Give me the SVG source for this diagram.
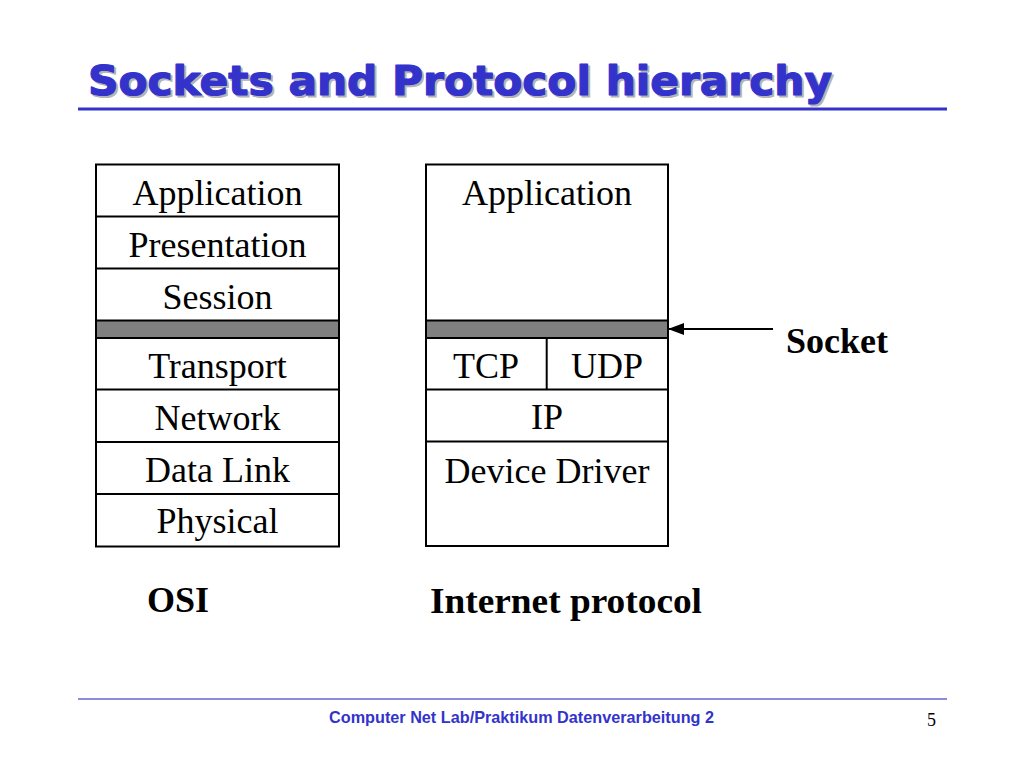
<svg xmlns="http://www.w3.org/2000/svg" width="1024" height="768" viewBox="0 0 1024 768">
<defs>
<style>
.box{fill:#ffffff;stroke:#000000;stroke-width:2}
.div{stroke:#000000;stroke-width:2}
.band{fill:#808080;stroke:#000000;stroke-width:2}
.lay{font-family:"Liberation Serif","Times New Roman",serif;font-size:36px;fill:#000000;text-anchor:middle}
.lbl{font-family:"Liberation Serif","Times New Roman",serif;font-size:36px;font-weight:bold;fill:#000000}
.title{font-family:"DejaVu Sans",Verdana,sans-serif;font-size:41px;font-weight:bold;stroke-width:1.2;stroke-linejoin:round}
</style>
<marker id="arr" viewBox="0 0 16 12" refX="15" refY="6" markerWidth="16" markerHeight="12" markerUnits="userSpaceOnUse" orient="auto">
<path d="M0,0 L16,6 L0,12 Z" fill="#000000"/>
</marker>
</defs>
<rect width="1024" height="768" fill="#ffffff"/>

<g id="title">
<text class="title" x="90" y="97" fill="#b4b4b4" stroke="#b4b4b4" textLength="744" lengthAdjust="spacingAndGlyphs">Sockets and Protocol hierarchy</text>
<text class="title" x="88" y="95" fill="#3333cc" stroke="#3333cc" textLength="744" lengthAdjust="spacingAndGlyphs">Sockets and Protocol hierarchy</text>
<line x1="78" y1="109" x2="947" y2="109" stroke="#3333cc" stroke-width="3"/>
</g>

<g id="osi">
<rect class="box" x="96" y="164.5" width="243" height="382"/>
<rect class="band" x="96" y="320.5" width="243" height="17.5"/>
<line class="div" x1="96" y1="338" x2="339" y2="338" stroke-width="3"/>
<line class="div" x1="96" y1="216.5" x2="339" y2="216.5"/>
<line class="div" x1="96" y1="268.5" x2="339" y2="268.5"/>
<line class="div" x1="96" y1="389.5" x2="339" y2="389.5"/>
<line class="div" x1="96" y1="442" x2="339" y2="442"/>
<line class="div" x1="96" y1="494" x2="339" y2="494"/>
<text class="lay" x="217.5" y="205">Application</text>
<text class="lay" x="217.5" y="257">Presentation</text>
<text class="lay" x="217.5" y="309">Session</text>
<text class="lay" x="217.5" y="378">Transport</text>
<text class="lay" x="217.5" y="430">Network</text>
<text class="lay" x="217.5" y="482">Data Link</text>
<text class="lay" x="217.5" y="533">Physical</text>
<text class="lbl" x="147" y="612">OSI</text>
</g>

<g id="internet">
<rect class="box" x="426" y="164.5" width="242" height="381.5"/>
<rect class="band" x="426" y="320.5" width="242" height="17.5"/>
<line class="div" x1="426" y1="338" x2="668" y2="338" stroke-width="3"/>
<line class="div" x1="426" y1="389.5" x2="668" y2="389.5"/>
<line class="div" x1="426" y1="441.5" x2="668" y2="441.5" stroke-width="3"/>
<line class="div" x1="546.7" y1="338" x2="546.7" y2="389.5"/>
<text class="lay" x="547" y="205">Application</text>
<text class="lay" x="486" y="378">TCP</text>
<text class="lay" x="607" y="378">UDP</text>
<text class="lay" x="547" y="429">IP</text>
<text class="lay" x="547" y="483">Device Driver</text>
<text class="lbl" x="430" y="613" textLength="272" lengthAdjust="spacingAndGlyphs">Internet protocol</text>
</g>

<g id="socket">
<text class="lbl" x="786" y="353">Socket</text>
</g>

<g id="connectors">
<line x1="773" y1="329" x2="669" y2="329" stroke="#000000" stroke-width="2" marker-end="url(#arr)"/>
</g>

<g id="footer">
<line x1="78" y1="699" x2="947" y2="699" stroke="#6666cc" stroke-width="1.5"/>
<text x="329" y="723" font-family="'Liberation Sans',Arial,sans-serif" font-size="17px" font-weight="bold" fill="#3333cc" textLength="385" lengthAdjust="spacingAndGlyphs">Computer Net Lab/Praktikum Datenverarbeitung 2</text>
<text x="927" y="726" font-family="'Liberation Serif','Times New Roman',serif" font-size="18px" fill="#000000">5</text>
</g>
</svg>
